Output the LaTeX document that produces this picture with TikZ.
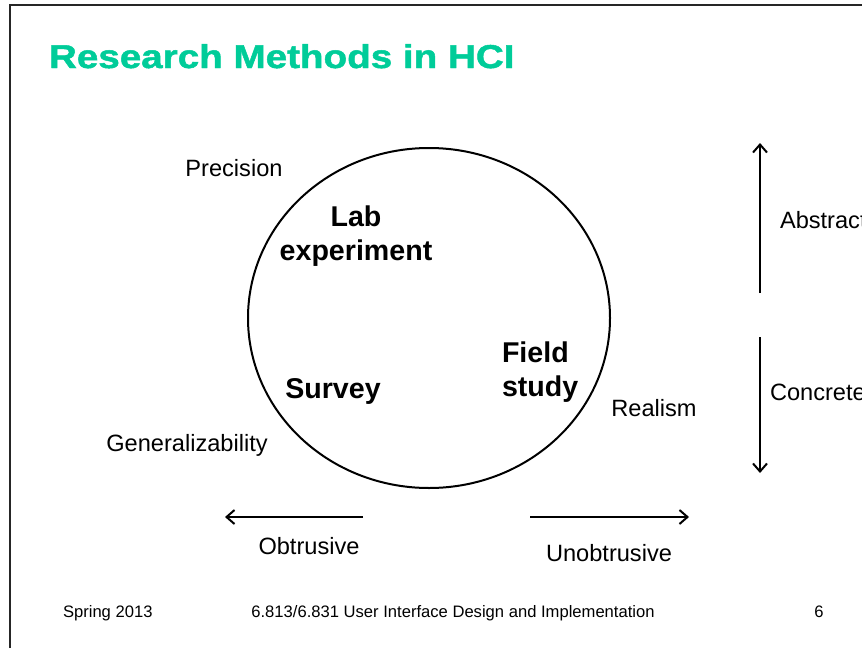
\documentclass[tikz,border=0pt]{standalone}
\usepackage{fontspec}
\setmainfont{Liberation Sans}
\newfontfamily\titlefont{Liberation Sans}[FakeStretch=1.17, FakeBold=1.5]
\usepackage{tikz}
\usetikzlibrary{arrows.meta}
\definecolor{hcigreen}{RGB}{0,204,153}

\tikzset{
  lbl/.style={inner sep=0pt, anchor=base, font=\fontsize{11.8}{14}\selectfont},
  method/.style={inner sep=0pt, font=\bfseries\fontsize{14.3}{17}\selectfont},
  foot/.style={inner sep=0pt, anchor=base, font=\fontsize{8.3}{10}\selectfont},
}

\begin{document}
\begin{tikzpicture}[x=0.5pt,y=-0.5pt,line width=1pt,>={Straight Barb[length=4pt,width=7pt]}]
    \useasboundingbox (0,0) rectangle (862,648);
    \draw[black!85] (10,648) -- (10,5) -- (862,5);

    % heading
    \node[inner sep=0pt, anchor=base west, text=hcigreen,
          font=\titlefont\bfseries\fontsize{16.5}{19}\selectfont] (title) at (48,68) {Research Methods in HCI};

    % the four methods
    \draw (429,318) ellipse [x radius=181, y radius=170];
    \node[method, align=center] (lab) at (356,236) {Lab\\experiment};
    \node[method, anchor=base] (survey) at (333,398) {Survey};
    \node[method, align=left, anchor=west] (field) at (501,372) {Field\\study};

    \node[lbl] (prec) at (234,176) {Precision};
    \node[lbl] (gen) at (187,451) {Generalizability};
    \node[lbl] (real) at (654,416) {Realism};

    % axes
    \coordinate (absA) at (760,293);
    \coordinate (absB) at (760,143);
    \coordinate (conA) at (760,337);
    \coordinate (conB) at (760,473);
    \coordinate (obtA) at (363,517);
    \coordinate (obtB) at (225,517);
    \coordinate (unoA) at (530,517);
    \coordinate (unoB) at (689,517);

    \draw[->] (absA) -- (absB);
    \draw[->] (conA) -- (conB);
    \draw[->] (obtA) -- (obtB);
    \draw[->] (unoA) -- (unoB);

    \node[lbl, anchor=base west] (abs) at (779,228) {Abstract};
    \node[lbl, anchor=base west] (con) at (769,400) {Concrete};
    \node[lbl] (obt) at (309,554) {Obtrusive};
    \node[lbl] (uno) at (609,561) {Unobtrusive};

    % footer
    \node[foot, anchor=base west] (term) at (62,617) {Spring 2013};
    \node[foot] (course) at (453,617) {6.813/6.831 User Interface Design and Implementation};
    \node[foot] (page) at (819,617) {6};
\end{tikzpicture}
\end{document}
